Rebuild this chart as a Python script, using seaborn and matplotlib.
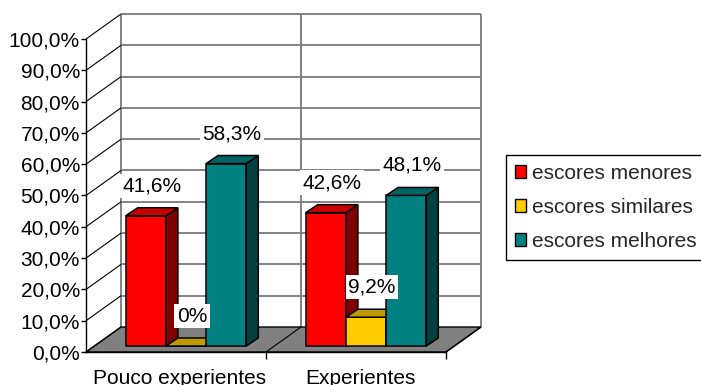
import numpy as np
import pandas as pd
import matplotlib
matplotlib.use("Agg")
import matplotlib.pyplot as plt
import matplotlib.transforms as mtransforms
from matplotlib.patches import Polygon, Patch
from matplotlib.lines import Line2D
from matplotlib.ticker import FuncFormatter
import seaborn as sns

# ---------------- data ----------------
grupos = ["Pouco experientes", "Experientes"]
series = ["escores menores", "escores similares", "escores melhores"]
menores = [41.6, 42.6]
similares = [0.0, 9.2]
melhores = [58.3, 48.1]
y_ticks = [0, 10, 20, 30, 40, 50, 60, 70, 80, 90, 100]

front_colors = ["#FF0000", "#FFCC00", "#008080"]
top_colors = ["#C80000", "#C09A00", "#006464"]
side_colors = ["#800000", "#8C7000", "#004040"]

sns.set_theme(style="white")
plt.rcParams['font.family'] = ['Liberation Sans', 'DejaVu Sans']

W, H = 701, 385
fig = plt.figure(figsize=(W / 100, H / 100), dpi=100)
fig.patch.set_facecolor('white')

# front plane axes (pixel layout)
x0_px, x1_px = 86, 446
y0_px, y100_px = 352, 39
ax = fig.add_axes([x0_px / W, 1 - y0_px / H, (x1_px - x0_px) / W, (y0_px - y100_px) / H])
ax.set_facecolor('none')

df = pd.DataFrame({
    'grupo': grupos * 3,
    'serie': np.repeat(series, len(grupos)),
    'valor': menores + similares + melhores,
})
sns.barplot(data=df, x='grupo', y='valor', hue='serie', order=grupos, hue_order=series,
            palette=front_colors, saturation=1, width=0.67, edgecolor='black',
            linewidth=1.1, legend=False, errorbar=None, ax=ax)
bars = list(ax.patches)

ax.set_xlim(-0.5, len(grupos) - 0.5)
ax.set_ylim(0, 100)

# offsets in pixels (display coords, y up)
BW = (35, 25)    # back wall
BF = (10, 6)     # bar front plane
D = (12, 8)      # bar depth
BB = (BF[0] + D[0], BF[1] + D[1])
ident = mtransforms.IdentityTransform()


def px(x, y, off=(0, 0)):
    X, Y = ax.transData.transform((x, y))
    return (X + off[0], Y + off[1])


def line(p0, p1, color, lw, z):
    ax.add_artist(Line2D([p0[0], p1[0]], [p0[1], p1[1]], transform=ident,
                         color=color, lw=lw, zorder=z, clip_on=False,
                         solid_capstyle='butt'))


xa, xb = -0.5, len(grupos) - 0.5
# floor
floor = Polygon([px(xa, 0), px(xb, 0), px(xb, 0, BW), px(xa, 0, BW)], closed=True,
                transform=ident, facecolor='#808080', edgecolor='black', lw=1.0,
                zorder=0.5, clip_on=False)
ax.add_artist(floor)
# back wall gridlines
for v in y_ticks[1:]:
    line(px(xa, v, BW), px(xb, v, BW), '#7a7a7a', 1.3, 0.3)
for xv in [xa, 0.5, xb]:
    line(px(xv, 0, BW), px(xv, 100, BW), '#7a7a7a', 1.3, 0.3)
# side wall diagonals
for v in y_ticks:
    line(px(xa, v), px(xa, v, BW), 'black', 0.8, 0.6)
line(px(0.5, 0), px(0.5, 0, BW), 'black', 0.8, 0.6)
line(px(xb, 0), px(xb, 0, BW), 'black', 0.9, 0.6)

# bars with 3D faces
nG = len(grupos)
offT = mtransforms.ScaledTranslation(BF[0] / 100, BF[1] / 100, fig.dpi_scale_trans)
order = sorted(range(len(bars)), key=lambda i: bars[i].get_x())
for rank, i in enumerate(order):
    p = bars[i]
    s = i // nG
    xl, w, h = p.get_x(), p.get_width(), p.get_height()
    z = 3 + rank * 0.1
    p.set_transform(ax.transData + offT)
    p.set_clip_on(False)
    p.set_zorder(z)
    side = Polygon([px(xl + w, 0, BF), px(xl + w, h, BF), px(xl + w, h, BB), px(xl + w, 0, BB)],
                   closed=True, transform=ident, facecolor=side_colors[s], edgecolor='black',
                   lw=1.1, zorder=z + 0.01, clip_on=False)
    top = Polygon([px(xl, h, BF), px(xl + w, h, BF), px(xl + w, h, BB), px(xl, h, BB)],
                  closed=True, transform=ident, facecolor=top_colors[s], edgecolor='black',
                  lw=1.1, zorder=z + 0.02, clip_on=False, joinstyle='miter')
    ax.add_artist(side)
    ax.add_artist(top)
    lab = "0%" if h == 0 else f"{h:.1f}".replace('.', ',') + "%"
    toff = mtransforms.ScaledTranslation((BF[0] + D[0] / 2) / 100, (BB[1] + 22) / 100,
                                         fig.dpi_scale_trans)
    ax.text(xl + w / 2, h, lab, transform=ax.transData + toff, ha='center', va='center',
            fontsize=15, color='black', zorder=10,
            bbox=dict(facecolor='white', edgecolor='none', pad=2.0))

# axes styling
for sp in ['top', 'right']:
    ax.spines[sp].set_visible(False)
for sp in ['left', 'bottom']:
    ax.spines[sp].set_visible(True)
    ax.spines[sp].set_color('black')
    ax.spines[sp].set_linewidth(1.0)
    ax.spines[sp].set_zorder(2)
ax.set_yticks(y_ticks)
ax.yaxis.set_major_formatter(FuncFormatter(lambda v, _: f"{v:.1f}".replace('.', ',') + "%"))
ax.tick_params(axis='y', direction='out', length=3.6, width=1, pad=0.8, labelsize=15,
               colors='black', left=True)
ax.set_xticks([0.5, xb])
ax.set_xticklabels(['', ''])
ax.set_xticks(range(nG), minor=True)
ax.set_xticklabels(grupos, minor=True)
ax.tick_params(axis='x', which='major', direction='out', length=5, width=1, colors='black',
               bottom=True)
ax.tick_params(axis='x', which='minor', length=0, pad=12, labelsize=15, colors='black')
ax.set_xlabel('')
ax.set_ylabel('')
for t in ax.get_xticklabels(minor=True):
    t.set_transform(t.get_transform() + mtransforms.ScaledTranslation(0.04, 0, fig.dpi_scale_trans))

# legend
handles = [Patch(facecolor=c, edgecolor='black', lw=1.0) for c in front_colors]
leg = fig.legend(handles, series, loc='upper left', bbox_to_anchor=(506 / W, 1 - 155 / H),
                 bbox_transform=fig.transFigure, borderaxespad=0, frameon=True, fancybox=False,
                 edgecolor='black', framealpha=1, fontsize=15, handlelength=0.55,
                 handleheight=0.55, handletextpad=0.3, labelspacing=0.72, borderpad=0.42)
leg.get_frame().set_linewidth(1.0)

fig.savefig('out.png', dpi=100, facecolor='white')
